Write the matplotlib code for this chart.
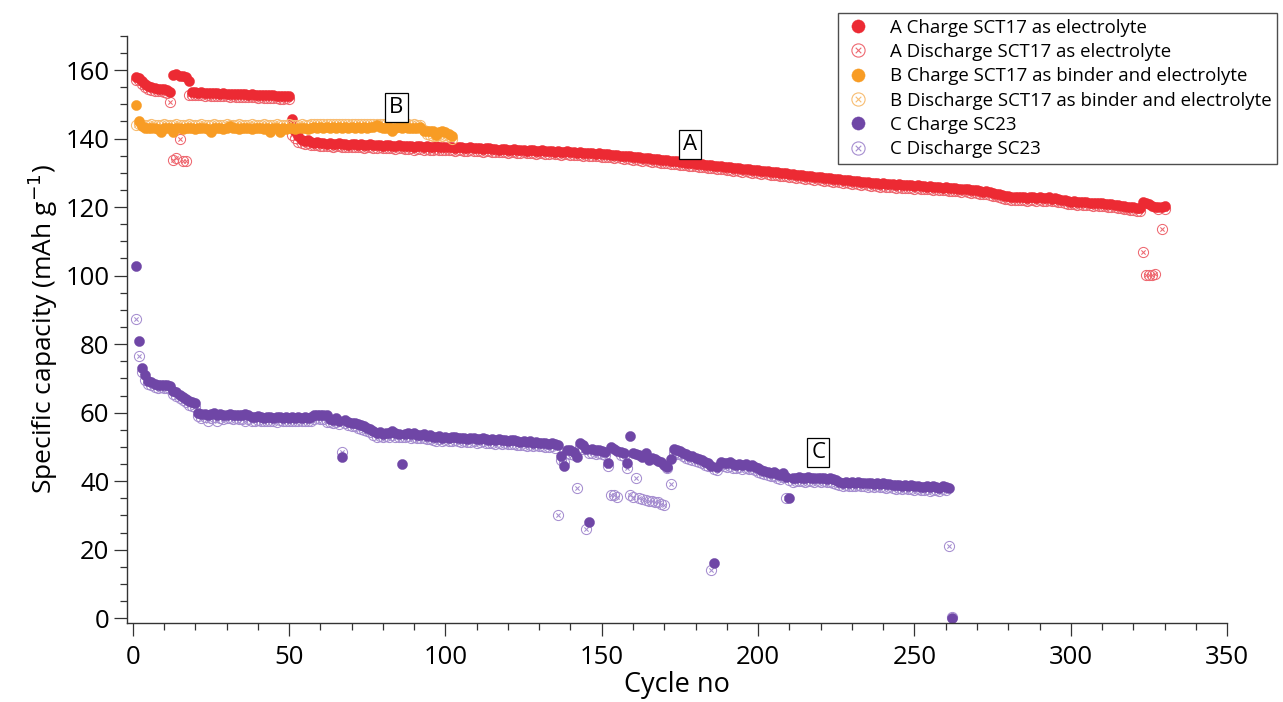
import matplotlib
matplotlib.use("Agg")
import matplotlib.pyplot as plt
import numpy as np
from matplotlib.path import Path
from matplotlib.lines import Line2D
from matplotlib.ticker import MultipleLocator

plt.rcParams['font.family'] = ['Open Sans', 'DejaVu Sans']

# --- 数据 (按图读取, 每个循环一个值) ---
a_charge = [
    158.0, 157.8, 156.8, 155.9, 155.3, 154.9, 154.7, 154.6, 154.6, 154.4,
    154.2, 153.6, 158.4, 158.7, 158.3, 158.2, 158.1, 156.8, 153.6, 153.5,
    153.4, 153.5, 153.3, 153.4, 153.2, 153.3, 153.2, 153.1, 153.2, 153.1,
    153.0, 153.1, 153.0, 152.9, 153.0, 152.9, 152.8, 152.9, 152.8, 152.7,
    152.8, 152.7, 152.6, 152.7, 152.6, 152.5, 152.4, 152.3, 152.5, 152.4,
    145.8, 142.1, 140.6, 139.6, 139.3, 139.6, 139.0, 138.8, 138.9, 138.6,
    138.7, 138.5, 138.6, 138.4, 138.5, 138.6, 138.3, 138.4, 138.2, 138.4,
    138.3, 138.2, 138.4, 138.1, 138.2, 138.3, 138.0, 138.1, 138.2, 137.9,
    138.0, 138.1, 137.9, 137.8, 138.0, 137.9, 137.7, 137.8, 137.9, 137.6,
    137.7, 137.8, 137.6, 137.7, 137.5, 137.6, 137.7, 137.4, 137.5, 137.6,
    137.4, 137.5, 137.3, 137.4, 137.5, 137.2, 137.3, 137.4, 137.1, 137.2,
    137.3, 137.0, 137.1, 137.2, 136.9, 137.0, 136.8, 136.9, 137.0, 136.7,
    136.8, 136.9, 136.6, 136.7, 136.8, 136.5, 136.6, 136.7, 136.4, 136.5,
    136.6, 136.3, 136.4, 136.5, 136.2, 136.3, 136.1, 136.2, 136.3, 136.0,
    136.1, 135.9, 136.0, 135.8, 135.9, 135.7, 135.8, 135.6, 135.7, 135.5,
    135.4, 135.5, 135.3, 135.2, 135.3, 135.0, 134.9, 135.0, 134.8, 134.6,
    134.7, 134.5, 134.3, 134.4, 134.2, 134.0, 134.1, 133.9, 133.7, 133.8,
    133.6, 133.4, 133.5, 133.3, 133.1, 133.2, 133.0, 132.8, 132.9, 132.7,
    132.5, 132.6, 132.4, 132.2, 132.3, 132.1, 131.9, 132.0, 131.8, 131.7,
    131.6, 131.4, 131.5, 131.3, 131.1, 131.2, 131.0, 130.8, 130.9, 130.7,
    130.5, 130.6, 130.4, 130.2, 130.3, 130.1, 129.9, 130.0, 129.8, 129.7,
    129.6, 129.4, 129.5, 129.3, 129.1, 129.2, 129.0, 128.8, 128.9, 128.7,
    128.5, 128.6, 128.4, 128.2, 128.3, 128.1, 127.9, 128.0, 127.8, 127.6,
    127.7, 127.5, 127.3, 127.4, 127.2, 127.0, 127.1, 126.9, 126.8, 126.9,
    126.7, 126.6, 126.8, 126.5, 126.6, 126.4, 126.5, 126.3, 126.4, 126.2,
    126.3, 126.1, 126.2, 126.0, 126.1, 125.9, 126.0, 125.8, 125.7, 125.8,
    125.6, 125.5, 125.6, 125.4, 125.3, 125.4, 125.2, 125.0, 125.1, 124.9,
    124.7, 124.5, 124.6, 124.3, 124.1, 123.9, 123.7, 123.5, 123.3, 123.2,
    123.0, 122.9, 123.0, 122.8, 122.9, 122.7, 122.8, 122.9, 122.7, 122.8,
    122.6, 122.7, 122.8, 122.5, 122.6, 122.4, 122.2, 122.0, 121.8, 121.6,
    121.7, 121.5, 121.6, 121.4, 121.5, 121.3, 121.2, 121.3, 121.1, 121.2,
    121.0, 120.9, 120.8, 120.7, 120.6, 120.4, 120.3, 120.1, 120.0, 119.9,
    119.8, 119.7, 121.4, 121.2, 120.8, 120.2, 120.0, 119.9, 120.1, 120.3,
]
a_discharge = [
    157.2, 157.0, 156.0, 155.1, 154.5, 154.1, 153.9, 153.8, 153.8, 153.6,
    153.4, 150.8, 133.8, 134.2, 139.9, 133.4, 133.4, 152.8, 152.8, 152.7,
    152.6, 152.7, 152.5, 152.6, 152.4, 152.5, 152.4, 152.3, 152.4, 152.3,
    152.2, 152.3, 152.2, 152.1, 152.2, 152.1, 152.0, 152.1, 152.0, 151.9,
    152.0, 151.9, 151.8, 151.9, 151.8, 151.7, 151.6, 151.5, 151.7, 151.6,
    141.0, 140.2, 139.0, 138.7, 138.5, 138.8, 138.2, 138.0, 138.1, 137.8,
    137.9, 137.7, 137.8, 137.6, 137.7, 137.8, 137.5, 137.6, 137.4, 137.6,
    137.5, 137.4, 137.6, 137.3, 137.4, 137.5, 137.2, 137.3, 137.4, 137.1,
    137.2, 137.3, 137.1, 137.0, 137.2, 137.1, 136.9, 137.0, 137.1, 136.8,
    136.9, 137.0, 136.8, 136.9, 136.7, 136.8, 136.9, 136.6, 136.7, 136.8,
    136.6, 136.7, 136.5, 136.6, 136.7, 136.4, 136.5, 136.6, 136.3, 136.4,
    136.5, 136.2, 136.3, 136.4, 136.1, 136.2, 136.0, 136.1, 136.2, 135.9,
    136.0, 136.1, 135.8, 135.9, 136.0, 135.7, 135.8, 135.9, 135.6, 135.7,
    135.8, 135.5, 135.6, 135.7, 135.4, 135.5, 135.3, 135.4, 135.5, 135.2,
    135.3, 135.1, 135.2, 135.0, 135.1, 134.9, 135.0, 134.8, 134.9, 134.7,
    134.6, 134.7, 134.5, 134.4, 134.5, 134.2, 134.1, 134.2, 134.0, 133.8,
    133.9, 133.7, 133.5, 133.6, 133.4, 133.2, 133.3, 133.1, 132.9, 133.0,
    132.8, 132.6, 132.7, 132.5, 132.3, 132.4, 132.2, 132.0, 132.1, 131.9,
    131.7, 131.8, 131.6, 131.4, 131.5, 131.3, 131.1, 131.2, 131.0, 130.9,
    130.8, 130.6, 130.7, 130.5, 130.3, 130.4, 130.2, 130.0, 130.1, 129.9,
    129.7, 129.8, 129.6, 129.4, 129.5, 129.3, 129.1, 129.2, 129.0, 128.9,
    128.8, 128.6, 128.7, 128.5, 128.3, 128.4, 128.2, 128.0, 128.1, 127.9,
    127.7, 127.8, 127.6, 127.4, 127.5, 127.3, 127.1, 127.2, 127.0, 126.8,
    126.9, 126.7, 126.5, 126.6, 126.4, 126.2, 126.3, 126.1, 126.0, 126.1,
    125.9, 125.8, 126.0, 125.7, 125.8, 125.6, 125.7, 125.5, 125.6, 125.4,
    125.5, 125.3, 125.4, 125.2, 125.3, 125.1, 125.2, 125.0, 124.9, 125.0,
    124.8, 124.7, 124.8, 124.6, 124.5, 124.6, 124.4, 124.2, 124.3, 124.1,
    123.9, 123.7, 123.8, 123.5, 123.3, 123.1, 122.9, 122.7, 122.5, 122.4,
    122.2, 122.1, 122.2, 122.0, 122.1, 121.9, 122.0, 122.1, 121.9, 122.0,
    121.8, 121.9, 122.0, 121.7, 121.8, 121.6, 121.4, 121.2, 121.0, 120.8,
    120.9, 120.7, 120.8, 120.6, 120.7, 120.5, 120.4, 120.5, 120.3, 120.4,
    120.2, 120.1, 120.0, 119.9, 119.8, 119.6, 119.5, 119.3, 119.2, 119.1,
    119.0, 118.9, 106.9, 100.2, 100.1, 100.3, 100.4, 119.3, 113.7, 119.5,
]

b_charge = [
    149.9, 145.0, 143.6, 143.2, 143.1, 143.0, 143.1, 142.9, 142.0, 143.0,
    143.1, 143.0, 142.0, 143.1, 143.0, 142.9, 143.1, 143.0, 143.1, 142.9,
    143.0, 143.1, 143.0, 142.9, 142.0, 143.0, 143.1, 143.0, 142.9, 143.1,
    143.6, 143.1, 143.0, 142.9, 143.1, 143.0, 143.1, 142.9, 143.0, 143.1,
    143.0, 142.9, 143.1, 142.0, 143.0, 143.1, 142.0, 143.0, 142.9, 143.1,
    143.0, 142.9, 143.0, 143.1, 143.0, 142.9, 143.2, 143.3, 143.2, 143.3,
    143.2, 143.3, 143.2, 143.3, 143.2, 143.3, 143.2, 143.3, 143.2, 143.3,
    143.2, 143.3, 143.2, 143.3, 143.2, 143.3, 143.4, 143.9, 143.3, 143.2,
    143.2, 143.3, 142.2, 143.2, 143.3, 143.2, 143.3, 143.2, 143.1, 143.2,
    143.1, 143.5, 142.2, 142.1, 142.3, 142.2, 141.0, 142.0, 142.1, 142.0,
    141.3, 140.8,
]
b_discharge = [
    144.0, 144.2, 144.0, 143.9, 144.0, 144.1, 144.0, 143.9, 144.0, 144.1,
    144.0, 143.9, 144.0, 144.1, 144.0, 143.9, 144.0, 144.1, 144.0, 143.9,
    144.0, 144.1, 144.0, 143.9, 144.0, 144.1, 144.0, 143.9, 144.0, 144.1,
    144.0, 143.9, 144.0, 144.1, 144.0, 143.9, 144.0, 144.1, 144.0, 143.9,
    144.0, 144.1, 144.0, 143.9, 144.0, 144.1, 144.0, 143.9, 144.0, 144.1,
    144.0, 143.9, 144.0, 144.1, 144.0, 143.9, 144.2, 144.3, 144.2, 144.3,
    144.2, 144.3, 144.2, 144.3, 144.2, 144.3, 144.2, 144.3, 144.2, 144.3,
    144.2, 144.3, 144.2, 144.3, 144.2, 144.3, 144.2, 144.3, 144.2, 144.1,
    144.2, 144.1, 144.2, 144.1, 144.2, 144.1, 144.2, 144.1, 144.0, 144.1,
    144.0, 143.9, 142.5, 141.3, 141.0, 140.8, 140.6, 140.9, 140.7, 141.0,
    140.6, 139.8,
]

c_charge = [
    102.9, 81.0, 73.0, 71.0, 69.3, 69.0, 68.3, 68.1, 68.2, 68.0,
    68.1, 67.9, 66.4, 66.0, 65.3, 64.7, 64.0, 63.3, 63.0, 62.8,
    59.9, 59.5, 59.6, 59.4, 59.5, 59.8, 59.4, 59.5, 59.3, 59.4,
    59.5, 59.3, 59.4, 59.2, 59.3, 59.5, 59.2, 58.6, 58.7, 59.0,
    58.6, 58.5, 58.6, 58.7, 58.5, 58.6, 58.8, 58.5, 58.6, 58.5,
    58.6, 58.5, 58.6, 58.5, 58.6, 58.5, 58.7, 59.3, 59.4, 59.3,
    59.4, 59.2, 58.3, 57.9, 58.4, 57.6, 47.2, 58.0, 57.3, 57.1,
    57.0, 56.6, 56.3, 56.0, 55.6, 55.3, 54.6, 54.0, 54.3, 53.9,
    54.1, 54.0, 54.6, 54.0, 53.8, 45.1, 53.9, 54.1, 53.7, 54.0,
    53.6, 53.5, 53.7, 53.2, 53.4, 53.0, 52.8, 53.2, 52.7, 52.9,
    52.6, 52.8, 53.0, 52.7, 52.5, 52.6, 52.4, 52.5, 52.7, 52.3,
    52.4, 52.6, 52.3, 52.1, 52.2, 52.0, 52.3, 51.9, 52.1, 51.8,
    51.9, 52.0, 51.7, 51.5, 51.6, 51.4, 51.7, 51.3, 51.5, 51.2,
    51.3, 51.1, 51.0, 51.2, 50.8, 50.6, 47.3, 44.3, 49.2, 49.0,
    48.6, 47.1, 51.1, 50.5, 49.3, 28.0, 49.3, 49.0, 49.1, 48.8,
    48.6, 45.3, 50.1, 49.5, 48.8, 48.6, 48.3, 45.3, 53.2, 48.3,
    48.0, 47.6, 47.0, 48.1, 46.2, 46.9, 46.5, 45.8, 45.5, 44.8,
    44.2, 46.5, 49.3, 49.0, 48.8, 48.3, 47.9, 47.5, 47.3, 46.8,
    46.5, 46.2, 45.7, 45.3, 44.5, 16.1, 44.2, 45.7, 45.4, 45.2,
    45.5, 45.0, 44.8, 45.1, 44.7, 44.9, 44.5, 44.6, 44.2, 43.8,
    43.3, 43.0, 42.8, 42.4, 42.6, 42.0, 41.7, 42.3, 41.3, 35.0,
    40.8, 41.0, 41.2, 41.0, 40.9, 41.1, 41.0, 40.8, 41.0, 40.9,
    41.0, 40.7, 40.8, 40.6, 40.3, 39.9, 39.6, 39.8, 39.5, 39.7,
    39.6, 39.8, 39.5, 39.6, 39.4, 39.6, 39.3, 39.5, 39.2, 39.4,
    39.1, 39.3, 39.0, 38.8, 39.0, 38.7, 38.9, 38.6, 38.8, 38.5,
    38.7, 38.4, 38.3, 38.6, 38.2, 38.5, 38.4, 38.1, 38.6, 38.3,
    38.0, 0.2,
]
c_discharge = [
    87.4, 76.5, 72.0, 69.5, 68.3, 68.0, 67.4, 67.2, 67.4, 67.1,
    67.2, 66.9, 65.5, 65.0, 64.3, 63.7, 63.0, 62.3, 61.9, 61.6,
    58.9, 58.5, 58.6, 57.6, 58.5, 58.8, 57.6, 58.5, 58.3, 58.4,
    58.5, 58.3, 58.4, 58.2, 58.3, 57.7, 58.2, 57.6, 57.7, 58.0,
    57.6, 57.5, 57.6, 57.7, 57.5, 57.2, 57.8, 57.5, 57.6, 57.5,
    57.6, 57.5, 57.6, 57.5, 57.6, 57.5, 57.7, 58.3, 58.4, 58.3,
    58.2, 57.4, 57.3, 56.9, 57.4, 56.6, 48.5, 57.0, 56.3, 56.1,
    56.0, 55.6, 55.3, 55.0, 54.6, 54.3, 53.6, 53.0, 53.3, 52.9,
    53.1, 53.0, 53.6, 53.0, 52.8, 53.0, 52.9, 53.1, 52.7, 53.0,
    52.6, 52.5, 52.7, 52.2, 52.4, 52.0, 51.8, 52.2, 51.7, 51.9,
    51.6, 51.8, 52.0, 51.7, 51.5, 51.6, 51.4, 51.5, 51.7, 51.3,
    51.4, 51.6, 51.3, 51.1, 51.2, 51.0, 51.3, 50.9, 51.1, 50.8,
    50.9, 51.0, 50.7, 50.5, 50.6, 50.4, 50.7, 50.3, 50.5, 50.2,
    50.3, 50.1, 50.0, 50.2, 49.8, 30.2, 46.3, 45.5, 48.2, 48.0,
    47.6, 38.1, 50.1, 49.5, 26.1, 48.3, 48.3, 48.0, 48.1, 47.8,
    47.6, 44.3, 36.0, 36.0, 35.4, 47.6, 47.3, 44.0, 36.0, 35.5,
    41.0, 35.0, 34.8, 34.5, 34.3, 34.2, 34.0, 33.9, 33.5, 33.2,
    43.8, 39.1, 48.3, 48.0, 47.8, 47.3, 46.9, 46.5, 46.3, 45.8,
    45.5, 45.2, 44.7, 44.3, 14.1, 43.5, 43.2, 44.7, 44.4, 44.2,
    44.5, 44.0, 43.8, 44.1, 43.7, 43.9, 43.5, 43.6, 43.2, 42.8,
    42.3, 42.0, 41.8, 41.4, 41.6, 41.0, 40.7, 41.3, 35.0, 40.3,
    39.8, 40.0, 40.2, 40.0, 39.9, 40.1, 40.0, 39.8, 40.0, 39.9,
    40.0, 39.7, 39.8, 39.6, 39.3, 38.9, 38.6, 38.8, 38.5, 38.7,
    38.6, 38.8, 38.5, 38.6, 38.4, 38.6, 38.3, 38.5, 38.2, 38.4,
    38.1, 38.3, 38.0, 37.8, 38.0, 37.7, 37.9, 37.6, 37.8, 37.5,
    37.7, 37.4, 37.3, 37.6, 37.2, 37.5, 37.4, 37.1, 37.6, 37.3,
    21.1, 0.5,
]

labels = [
    "A Charge SCT17 as electrolyte",
    "A Discharge SCT17 as electrolyte",
    "B Charge SCT17 as binder and electrolyte",
    "B Discharge SCT17 as binder and electrolyte",
    "C Charge SC23",
    "C Discharge SC23",
]

# 颜色
red, red_lt = '#EC2A33', '#EE6870'
orange, orange_lt = '#F89C24', '#F8BC70'
purple, purple_lt = '#6F46A6', '#A68ED0'

# 圆圈加叉的空心标记 (⊗)
k = 0.42
cross_marker = Path.make_compound_path(
    Path.unit_circle(),
    Path([[-k, -k], [k, k]], [Path.MOVETO, Path.LINETO]),
    Path([[-k, k], [k, -k]], [Path.MOVETO, Path.LINETO]),
)

fig = plt.figure(figsize=(12.83, 7.02), dpi=100)
ax = fig.add_axes([0.0988, 0.1121, 0.8577, 0.837])

series = [
    (a_charge, red, 'o'), (a_discharge, red_lt, 'x'),
    (b_charge, orange, 'o'), (b_discharge, orange_lt, 'x'),
    (c_charge, purple, 'o'), (c_discharge, purple_lt, 'x'),
]
ms = 7.3
handles = []
for i in (1, 0, 3, 2, 5, 4):  # 放电在下, 充电在上
    vals, col, kind = series[i]
    cyc = np.arange(1, len(vals) + 1)
    if kind == 'o':
        kw = dict(marker='o', markersize=ms, markerfacecolor=col,
                  markeredgecolor=col, markeredgewidth=0.3)
    else:
        kw = dict(marker=cross_marker, markersize=ms, markerfacecolor='none',
                  markeredgecolor=col, markeredgewidth=0.75)
    ax.plot(cyc, vals, linestyle='none', **kw)
for vals, col, kind in series:
    if kind == 'o':
        kw = dict(marker='o', markersize=9.5, markerfacecolor=col,
                  markeredgecolor=col, markeredgewidth=0.3)
    else:
        kw = dict(marker=cross_marker, markersize=9.5, markerfacecolor='none',
                  markeredgecolor=col, markeredgewidth=0.8)
    handles.append(Line2D([], [], linestyle='none', **kw))

ax.set_xlim(-1.9, 350)
ax.set_ylim(-1.46, 170)

for s in ['top', 'right']:
    ax.spines[s].set_visible(False)
for s in ['left', 'bottom']:
    ax.spines[s].set_color('#333333')
    ax.spines[s].set_linewidth(1.0)

ax.xaxis.set_major_locator(MultipleLocator(50))
ax.xaxis.set_minor_locator(MultipleLocator(10))
ax.yaxis.set_major_locator(MultipleLocator(20))
ax.yaxis.set_minor_locator(MultipleLocator(5))
ax.tick_params(which='major', direction='out', length=9.5, width=0.9,
               color='#333333', labelsize=18.5)
ax.tick_params(which='minor', direction='out', length=5, width=0.9,
               color='#333333')
ax.tick_params(axis='x', which='major', pad=6)
ax.tick_params(axis='y', which='major', pad=3)

ax.set_xlabel("Cycle no", fontsize=19.5, labelpad=1)
ax.set_ylabel("Specific capacity (mAh g$^{-1}$)", fontsize=19, labelpad=4)

# 曲线标注
box = dict(boxstyle='square,pad=0.18', facecolor='white', edgecolor='black', linewidth=0.9)
ax.text(178.3, 138.3, "A", fontsize=16, ha='center', va='center', bbox=box)
ax.text(84.3, 149.0, "B", fontsize=16, ha='center', va='center', bbox=box)
ax.text(219.3, 48.3, "C", fontsize=16, ha='center', va='center', bbox=box)

leg = ax.legend(handles, labels, loc='upper left',
                bbox_to_anchor=(838 / 1283, 1 - 13 / 702),
                bbox_transform=fig.transFigure, fontsize=13.4,
                frameon=True, fancybox=False, borderaxespad=0,
                handlelength=1.6, handletextpad=0.9, labelspacing=0.34,
                borderpad=0.3)
leg.get_frame().set_edgecolor('#222222')
leg.get_frame().set_linewidth(1.0)

fig.savefig("out.png", dpi=100)
